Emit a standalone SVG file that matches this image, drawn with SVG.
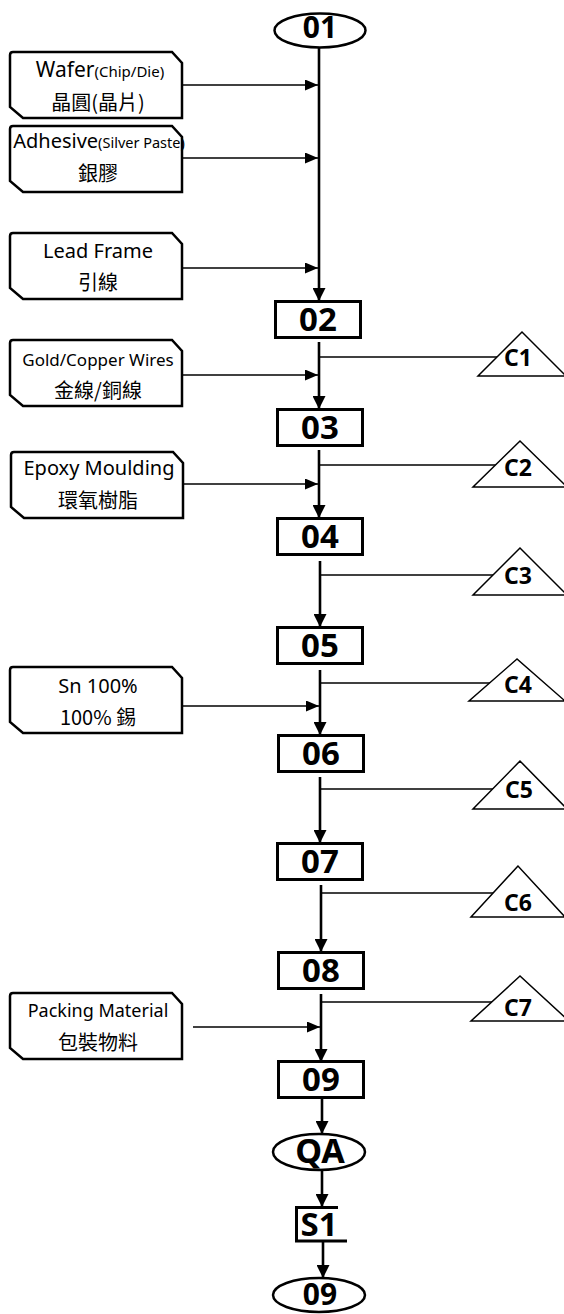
<svg xmlns="http://www.w3.org/2000/svg" width="564" height="1314" viewBox="0 0 564 1314">
<style>
.bg{fill:#fff}
.mat{fill:#fff;stroke:#000;stroke-width:2.5;stroke-linejoin:miter}
.en{font-family:"Noto Sans","Noto Sans CJK TC",sans-serif;font-size:20px;fill:#000;text-anchor:middle}
.zh{font-family:"Noto Sans CJK TC","Noto Sans",sans-serif;font-size:20px;fill:#000;text-anchor:middle}
.num{font-family:"Noto Sans","Liberation Sans",sans-serif;font-weight:bold;font-size:33px;fill:#000;text-anchor:middle}
.cl{font-family:"Noto Sans","Liberation Sans",sans-serif;font-weight:bold;font-size:23px;fill:#000;text-anchor:middle}
.box{fill:#fff;stroke:#000;stroke-width:3}
.ov{fill:#fff;stroke:#000;stroke-width:2.5}
.tri{fill:#fff;stroke:#000;stroke-width:1.5;stroke-linejoin:miter}
.main{fill:none;stroke:#000;stroke-width:2.6}
.thin{fill:none;stroke:#000;stroke-width:1.4}
</style>
<defs>
<marker id="ah" markerUnits="userSpaceOnUse" markerWidth="13" markerHeight="11" refX="13" refY="5.5" orient="auto"><path d="M0,0 L13,5.5 L0,11 Z" fill="#000"/></marker>
<marker id="av" markerUnits="userSpaceOnUse" markerWidth="13" markerHeight="13" refX="13" refY="6.5" orient="auto"><path d="M0,0 L13,6.5 L0,13 Z" fill="#000"/></marker>
<path id="matshape" d="M3,0 H162 L172,11 V66 H13 L0,55 V3 Q0,0 3,0 Z"/>
</defs>
<rect class="bg" x="0" y="0" width="564" height="1314"/>

<g id="connectors">
  <!-- main flow -->
  <line class="main" x1="319" y1="47" x2="319" y2="301" marker-end="url(#av)"/>
  <line class="main" x1="319" y1="342" x2="319" y2="409" marker-end="url(#av)"/>
  <line class="main" x1="319" y1="450" x2="319" y2="518" marker-end="url(#av)"/>
  <line class="main" x1="320" y1="561" x2="320" y2="627" marker-end="url(#av)"/>
  <line class="main" x1="320" y1="670" x2="320" y2="735" marker-end="url(#av)"/>
  <line class="main" x1="320" y1="777" x2="320" y2="843" marker-end="url(#av)"/>
  <line class="main" x1="321" y1="885" x2="321" y2="952" marker-end="url(#av)"/>
  <line class="main" x1="321" y1="994" x2="321" y2="1062" marker-end="url(#av)"/>
  <line class="main" x1="322" y1="1099" x2="322" y2="1134" marker-end="url(#av)"/>
  <line class="main" x1="322" y1="1170" x2="322" y2="1207" marker-end="url(#av)"/>
  <line class="main" x1="323" y1="1242" x2="323" y2="1278" marker-end="url(#av)"/>
  <!-- material inputs -->
  <line class="thin" x1="182" y1="85" x2="318" y2="85" marker-end="url(#ah)"/>
  <line class="thin" x1="182" y1="158" x2="318" y2="158" marker-end="url(#ah)"/>
  <line class="thin" x1="182" y1="268" x2="318" y2="268" marker-end="url(#ah)"/>
  <line class="thin" x1="182" y1="375" x2="318" y2="375" marker-end="url(#ah)"/>
  <line class="thin" x1="183" y1="484" x2="318" y2="484" marker-end="url(#ah)"/>
  <line class="thin" x1="182" y1="706" x2="319" y2="706" marker-end="url(#ah)"/>
  <line class="thin" x1="193" y1="1027" x2="320" y2="1027" marker-end="url(#ah)"/>
  <!-- control points -->
  <line class="thin" x1="319" y1="357" x2="505" y2="357"/>
  <line class="thin" x1="319" y1="465" x2="505" y2="465"/>
  <line class="thin" x1="320" y1="575" x2="505" y2="575"/>
  <line class="thin" x1="320" y1="683" x2="505" y2="683"/>
  <line class="thin" x1="320" y1="789" x2="505" y2="789"/>
  <line class="thin" x1="321" y1="893" x2="505" y2="893"/>
  <line class="thin" x1="321" y1="1002" x2="505" y2="1002"/>
</g>

<g id="n01"><ellipse class="ov" cx="320" cy="30.5" rx="45.5" ry="17"/><text class="num" x="320" y="38" style="font-size:30px">01</text></g>
<g id="n02"><rect class="box" x="275.5" y="301.5" width="85" height="36"/><text class="num" x="318" y="331">02</text></g>
<g id="n03"><rect class="box" x="277.5" y="409.5" width="85" height="36"/><text class="num" x="320" y="439">03</text></g>
<g id="n04"><rect class="box" x="277.5" y="518.5" width="85" height="36"/><text class="num" x="320" y="548">04</text></g>
<g id="n05"><rect class="box" x="277.5" y="627.5" width="85" height="36"/><text class="num" x="320" y="657">05</text></g>
<g id="n06"><rect class="box" x="278.5" y="735.5" width="85" height="36"/><text class="num" x="321" y="765">06</text></g>
<g id="n07"><rect class="box" x="277.5" y="843.5" width="85" height="36"/><text class="num" x="320" y="873">07</text></g>
<g id="n08"><rect class="box" x="278.5" y="952.5" width="85" height="36"/><text class="num" x="321" y="982">08</text></g>
<g id="n09"><rect class="box" x="278.5" y="1061.5" width="85" height="36"/><text class="num" x="321" y="1091">09</text></g>
<g id="nQA"><ellipse class="ov" cx="319" cy="1152" rx="46" ry="18"/><text class="num" x="320" y="1163" style="font-size:34px">QA</text></g>
<g id="nS1"><path d="M338,1207.5 H296.5 V1241 H347" fill="none" stroke="#000" stroke-width="3"/><text class="num" x="319" y="1236">S1</text></g>
<g id="n09end"><ellipse class="ov" cx="319" cy="1295" rx="46" ry="17"/><text class="num" x="320" y="1305" style="font-size:30px">09</text></g>

<g id="mWafer"><use href="#matshape" class="mat" x="10" y="52"/>
  <text class="en" x="100" y="77"><tspan style="font-size:21px">Wafer</tspan><tspan style="font-size:15px">(Chip/Die)</tspan></text>
  <text class="zh" x="98" y="110">晶圓(晶片)</text></g>
<g id="mAdhesive"><use href="#matshape" class="mat" x="10" y="126"/>
  <text class="en" x="99" y="148"><tspan>Adhesive</tspan><tspan style="font-size:14.5px">(Silver Paste)</tspan></text>
  <text class="zh" x="98" y="181">銀膠</text></g>
<g id="mLead"><use href="#matshape" class="mat" x="10" y="233"/>
  <text class="en" x="98" y="258">Lead Frame</text>
  <text class="zh" x="98" y="290">引線</text></g>
<g id="mGold"><use href="#matshape" class="mat" x="10" y="340"/>
  <text class="en" x="98" y="366" style="font-size:17px">Gold/Copper Wires</text>
  <text class="zh" x="98" y="398">金線/銅線</text></g>
<g id="mEpoxy"><use href="#matshape" class="mat" x="11" y="452"/>
  <text class="en" x="99" y="475">Epoxy Moulding</text>
  <text class="zh" x="98" y="508">環氧樹脂</text></g>
<g id="mSn"><use href="#matshape" class="mat" x="10" y="667"/>
  <text class="en" x="98" y="693">Sn 100%</text>
  <text class="zh" x="98" y="725">100% 錫</text></g>
<g id="mPacking"><use href="#matshape" class="mat" x="10" y="993"/>
  <text class="en" x="98" y="1017" style="font-size:18px">Packing Material</text>
  <text class="zh" x="98" y="1050">包裝物料</text></g>

<g id="C1"><polygon class="tri" points="522,332 478,376 566,376"/><text class="cl" x="518" y="366">C1</text></g>
<g id="C2"><polygon class="tri" points="520,441 473,487 567,487"/><text class="cl" x="518" y="476">C2</text></g>
<g id="C3"><polygon class="tri" points="520,548 473,595 567,595"/><text class="cl" x="518" y="584">C3</text></g>
<g id="C4"><polygon class="tri" points="517,659 469,701 565,701"/><text class="cl" x="518" y="693">C4</text></g>
<g id="C5"><polygon class="tri" points="520,761 473,809 567,809"/><text class="cl" x="519" y="798">C5</text></g>
<g id="C6"><polygon class="tri" points="518,866 471,917 565,917"/><text class="cl" x="518" y="911">C6</text></g>
<g id="C7"><polygon class="tri" points="520,976 471,1021 569,1021"/><text class="cl" x="518" y="1016">C7</text></g>
</svg>
